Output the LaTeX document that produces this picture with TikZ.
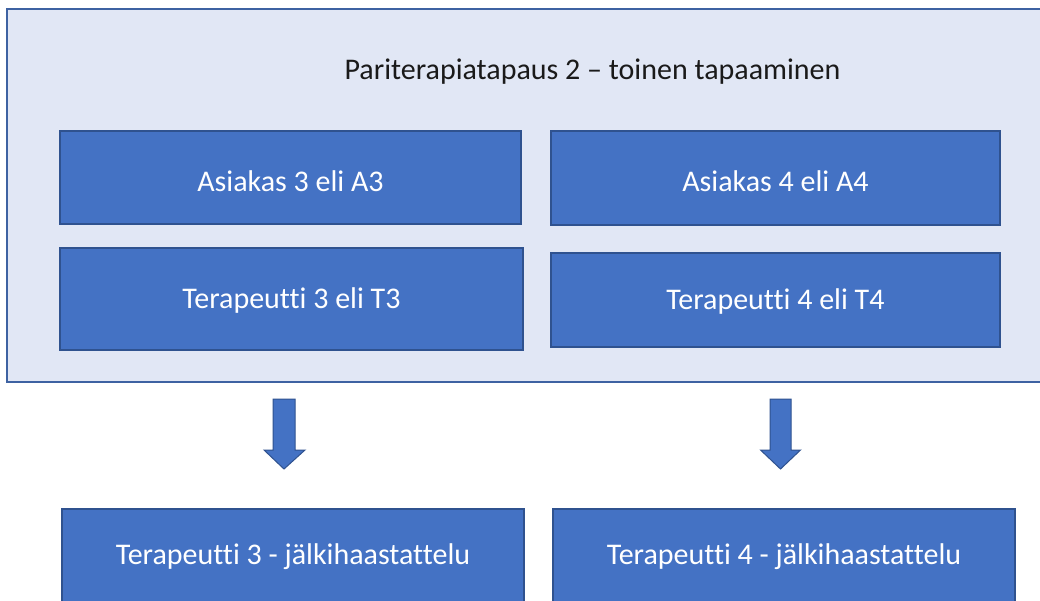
\documentclass[tikz,border=0pt]{standalone}
\usepackage{fontspec}
\setmainfont[Ligatures=NoCommon]{Carlito}
\definecolor{outerfill}{HTML}{E1E7F5}
\definecolor{outerline}{HTML}{3E62A2}
\definecolor{boxfill}{HTML}{4472C4}
\definecolor{boxline}{HTML}{2F528F}
\definecolor{titletext}{HTML}{1A1A1A}
\begin{document}
\begin{tikzpicture}[x=1pt,y=-1pt,
  outerbox/.style={draw=outerline,line width=2pt,fill=outerfill},
  bluebox/.style={draw=boxline,line width=1.5pt,fill=boxfill},
  boxlabel/.style={text=white,font=\fontsize{30}{36}\selectfont,inner sep=0pt},
  titlelabel/.style={text=titletext,font=\fontsize{30}{36}\selectfont,inner sep=0pt},
  blockarrow/.style={draw=boxline,line width=1pt,fill=boxfill,line join=miter}]
\useasboundingbox (0,0) rectangle (1040,600);
\clip (0,0) rectangle (1040,600);
\fill[white] (0,0) rectangle (1040,600);
% outer container
\draw[outerbox] (7,9) rectangle (1050,382);
\node[titlelabel] (title) at (592.5,72) {Pariterapiatapaus 2 – toinen tapaaminen};
% inner boxes
\draw[bluebox] (60,131) rectangle (521,224);
\node[boxlabel] (a3) at (290.5,181) {Asiakas 3 eli A3};
\draw[bluebox] (551,131) rectangle (1000,225);
\node[boxlabel] (a4) at (775.5,181) {Asiakas 4 eli A4};
\draw[bluebox] (60,248) rectangle (523,350);
\node[boxlabel] (t3) at (291.5,300) {Terapeutti 3 eli T3};
\draw[bluebox] (551,253) rectangle (1000,347);
\node[boxlabel] (t4) at (775.5,301) {Terapeutti 4 eli T4};
% block arrows
\draw[blockarrow] (273,399) -- (295,399) -- (295,450) -- (305,450) -- (284,469) -- (264,450) -- (273,450) -- cycle;
\draw[blockarrow] (770,399) -- (791,399) -- (791,450) -- (800.5,450) -- (780.5,469) -- (760.5,450) -- (770,450) -- cycle;
% bottom boxes
\draw[bluebox] (62,509) rectangle (524,606);
\node[boxlabel] (j3) at (293,557) {Terapeutti 3 - jälkihaastattelu};
\draw[bluebox] (553,509) rectangle (1015,606);
\node[boxlabel] (j4) at (784,557) {Terapeutti 4 - jälkihaastattelu};
\end{tikzpicture}
\end{document}
